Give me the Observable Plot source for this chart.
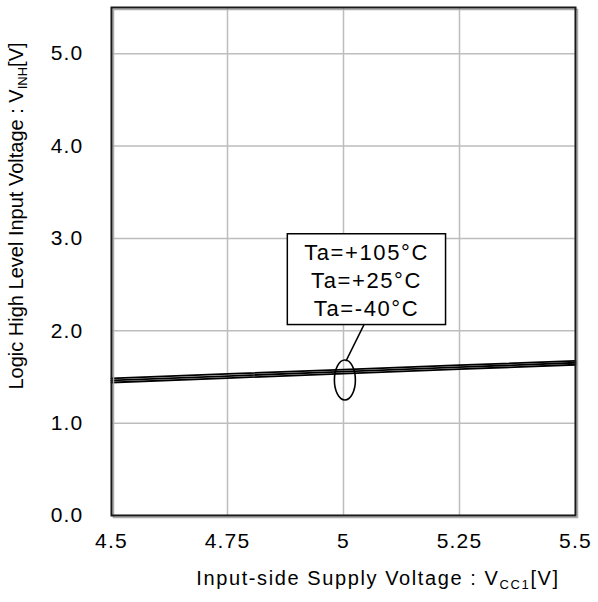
<!DOCTYPE html>
<html>
<head>
<meta charset="utf-8">
<script src="https://cdn.jsdelivr.net/npm/d3@7"></script>
<script src="https://cdn.jsdelivr.net/npm/@observablehq/plot@0.6"></script>
<style>
  body { margin: 0; background: #fff; }
  #chart svg { display: block; }
  #chart svg text { letter-spacing: 1.2px; }
  #chart svg text.xtitle { letter-spacing: 1.6px; }
  #chart svg text.ytitle { letter-spacing: 0; }
  #chart svg g.callout text { letter-spacing: 1.6px; }
</style>
</head>
<body>
<div id="chart"></div>
<script>
// Input-side supply voltage VCC1 [V]
const supplyVoltage = [4.5, 4.75, 5.0, 5.25, 5.5];

// Logic high level input voltage VINH [V] per ambient temperature
const seriesNames = ["Ta=+105°C", "Ta=+25°C", "Ta=-40°C"];
const vinhTa105 = [1.440, 1.488, 1.536, 1.584, 1.632];
const vinhTa25  = [1.462, 1.510, 1.558, 1.606, 1.654];
const vinhTaM40 = [1.485, 1.533, 1.580, 1.627, 1.675];

// Axis ticks and their labels
const xTicks = [4.5, 4.75, 5, 5.25, 5.5];
const xTickLabels = ["4.5", "4.75", "5", "5.25", "5.5"];
const yTicks = [0, 1, 2, 3, 4, 5];
const yTickLabels = ["0.0", "1.0", "2.0", "3.0", "4.0", "5.0"];

// Long-format table for the line mark
const seriesValues = [vinhTa105, vinhTa25, vinhTaM40];
const rows = seriesNames.flatMap((name, s) =>
  supplyVoltage.map((v, i) => ({series: name, vcc: v, vinh: seriesValues[s][i]}))
);

// Callout: ellipse around the curves, leader line and legend box
const ellipseAt = [{x: 5.003, y: 1.467}];
const leader = [{x: 5.0437, y: 2.062}, {x: 5.0058, y: 1.676}];
const box = [{x1: 4.880, x2: 5.221, y1: 2.062, y2: 3.045}];
const boxText = [{x: 5.0496, y: 2.559, label: seriesNames.join("\n")}];

// Ellipse symbol (rx 10.5px, ry 20px) built from four cubic Béziers
const ellipseSymbol = {
  draw(ctx) {
    const rx = 10.5, ry = 20, k = 0.5523, kx = rx * k, ky = ry * k;
    ctx.moveTo(rx, 0);
    ctx.bezierCurveTo(rx, ky, kx, ry, 0, ry);
    ctx.bezierCurveTo(-kx, ry, -rx, ky, -rx, 0);
    ctx.bezierCurveTo(-rx, -ky, -kx, -ry, 0, -ry);
    ctx.bezierCurveTo(kx, -ry, rx, -ky, rx, 0);
    ctx.closePath();
  }
};

const chart = Plot.plot({
  width: 598,
  height: 602,
  marginLeft: 111,
  marginRight: 23,
  marginTop: 7,
  marginBottom: 87,
  style: {fontFamily: "'Liberation Sans', Arial, sans-serif", fontSize: "21px", color: "#000", background: "#fff"},
  x: {domain: [4.5, 5.5]},
  y: {domain: [0, 5.5]},
  marks: [
    Plot.gridX(xTicks, {stroke: "#bdbdbd", strokeOpacity: 1, strokeWidth: 1.5}),
    Plot.gridY(yTicks, {stroke: "#bdbdbd", strokeOpacity: 1, strokeWidth: 1.5}),
    Plot.axisX({ticks: xTicks, tickFormat: d => xTickLabels[xTicks.indexOf(d)], tickSize: 0, tickPadding: 18, label: null, fontSize: 21}),
    Plot.axisY({ticks: yTicks, tickFormat: d => yTickLabels[yTicks.indexOf(d)], tickSize: 0, tickPadding: 28, label: null, fontSize: 21}),
    Plot.line(rows, {x: "vcc", y: "vinh", z: "series", stroke: "#000", strokeWidth: 1.8}),
    Plot.dot(ellipseAt, {x: "x", y: "y", symbol: ellipseSymbol, r: 10, fill: "none", stroke: "#000", strokeWidth: 1.6}),
    Plot.line(leader, {x: "x", y: "y", stroke: "#000", strokeWidth: 1.5}),
    Plot.rect(box, {x1: "x1", x2: "x2", y1: "y1", y2: "y2", fill: "#fff", stroke: "#000", strokeWidth: 1.5}),
    Plot.text(boxText, {x: "x", y: "y", text: "label", fontSize: 22, lineHeight: 1.26, textAnchor: "middle", fill: "#000", className: "callout"}),
    Plot.frame({stroke: "#aaa", strokeWidth: 1.5, dx: 2, dy: 2}),
    Plot.frame({stroke: "#1a1a1a", strokeWidth: 2})
  ]
});

// Axis titles with subscripts
const svg = d3.select(chart);
const xTitle = svg.append("text")
  .attr("class", "xtitle")
  .attr("x", 378).attr("y", 585)
  .attr("text-anchor", "middle")
  .attr("font-size", 20)
  .attr("fill", "#000");
xTitle.append("tspan").text("Input-side Supply Voltage : V");
xTitle.append("tspan").attr("font-size", 13).attr("dy", 4).text("CC1");
xTitle.append("tspan").attr("dy", -4).text("[V]");

const yTitle = svg.append("text")
  .attr("class", "ytitle")
  .attr("transform", "translate(23,216) rotate(-90)")
  .attr("text-anchor", "middle")
  .attr("font-size", 20)
  .attr("fill", "#000");
yTitle.append("tspan").text("Logic High Level Input Voltage : V");
yTitle.append("tspan").attr("font-size", 13).attr("dy", 4).text("INH");
yTitle.append("tspan").attr("dy", -4).text("[V]");

document.getElementById("chart").append(chart);
</script>
</body>
</html>
